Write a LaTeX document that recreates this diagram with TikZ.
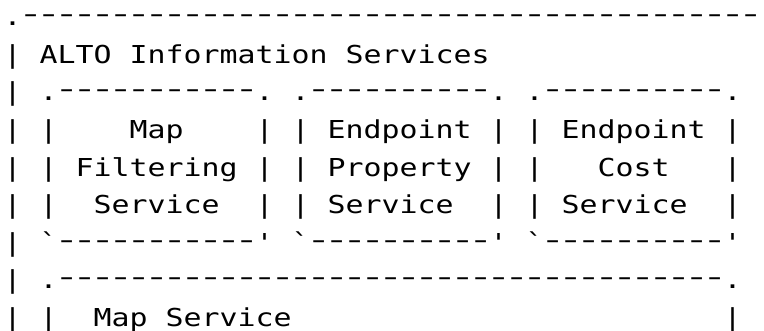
\documentclass[tikz,border=0pt]{standalone}
\usepackage{fontspec}
\setmonofont{DejaVu Sans Mono}
\ExplSyntaxOn
\cs_new:Npn \asciirep #1#2 { \prg_replicate:nn {#1} {#2} }
\ExplSyntaxOff
\newcommand\ascline[1]{\scalebox{1.2104}[1]{\frenchspacing#1}}
\newcommand\asciidash{\makebox[\fontcharwd\font`\-][c]{\raisebox{3pt}{\scalebox{1.4}[1]{-}}}}
\begin{document}
\begin{tikzpicture}[x=1pt,y=1pt,
  ascii/.style={inner sep=0pt, outer sep=0pt, anchor=base west, text=black,
    font=\ttfamily\fontsize{24.7}{37.6}\selectfont}]
\useasboundingbox (0,0) rectangle (764,-330);
\fill[white] (0,0) rectangle (764,-330);
\clip (0,0) rectangle (764,-330);
\node[ascii] (l1) at (3.7,-25.7)  {\ascline{.\asciirep{41}{\asciidash}}};
\node[ascii] (l2) at (3.7,-63.3)  {\ascline{| ALTO Information Services}};
\node[ascii] (l3) at (3.7,-100.9) {\ascline{| .\asciirep{11}{\asciidash}. .\asciirep{10}{\asciidash}. .\asciirep{10}{\asciidash}.}};
\node[ascii] (l4) at (3.7,-138.5) {\ascline{| |~~~~Map~~~~| | Endpoint | | Endpoint |}};
\node[ascii] (l5) at (3.7,-176.1) {\ascline{| | Filtering | | Property | |~~~Cost~~~|}};
\node[ascii] (l6) at (3.7,-213.7) {\ascline{| |~~Service~~| | Service~~| | Service~~|}};
\node[ascii] (l7) at (3.7,-251.3) {\ascline{| `\asciirep{11}{\asciidash}' `\asciirep{10}{\asciidash}' `\asciirep{10}{\asciidash}'}};
\node[ascii] (l8) at (3.7,-288.9) {\ascline{| .\asciirep{37}{\asciidash}.}};
\node[ascii] (l9) at (3.7,-326.5) {\ascline{| |~~Map Service\asciirep{24}{~}|}};
\end{tikzpicture}
\end{document}
